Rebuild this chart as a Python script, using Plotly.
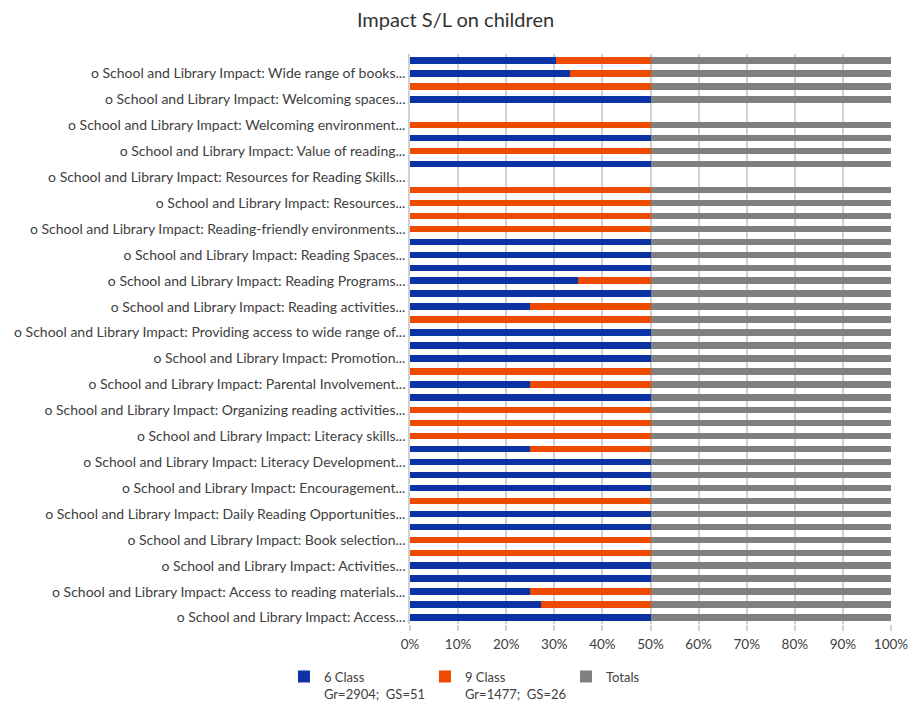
import plotly.graph_objects as go

# Categories, bottom to top (44 rows; Excel shows every other label)
categories = [
    "School and Library Impact: Access...",
    "School and Library Impact: Access (2)...",
    "School and Library Impact: Access to reading materials...",
    "School and Library Impact: Access to reading materials (2)...",
    "School and Library Impact: Activities...",
    "School and Library Impact: Activities (2)...",
    "School and Library Impact: Book selection...",
    "School and Library Impact: Book selection (2)...",
    "School and Library Impact: Daily Reading Opportunities...",
    "School and Library Impact: Daily Reading Opportunities (2)...",
    "School and Library Impact: Encouragement...",
    "School and Library Impact: Encouragement (2)...",
    "School and Library Impact: Literacy Development...",
    "School and Library Impact: Literacy Development (2)...",
    "School and Library Impact: Literacy skills...",
    "School and Library Impact: Literacy skills (2)...",
    "School and Library Impact: Organizing reading activities...",
    "School and Library Impact: Organizing reading activities (2)...",
    "School and Library Impact: Parental Involvement...",
    "School and Library Impact: Parental Involvement (2)...",
    "School and Library Impact: Promotion...",
    "School and Library Impact: Promotion (2)...",
    "School and Library Impact: Providing access to wide range of...",
    "School and Library Impact: Providing access to wide range of (2)...",
    "School and Library Impact: Reading activities...",
    "School and Library Impact: Reading activities (2)...",
    "School and Library Impact: Reading Programs...",
    "School and Library Impact: Reading Programs (2)...",
    "School and Library Impact: Reading Spaces...",
    "School and Library Impact: Reading Spaces (2)...",
    "School and Library Impact: Reading-friendly environments...",
    "School and Library Impact: Reading-friendly environments (2)...",
    "School and Library Impact: Resources...",
    "School and Library Impact: Resources (2)...",
    "School and Library Impact: Resources for Reading Skills...",
    "School and Library Impact: Resources for Reading Skills (2)...",
    "School and Library Impact: Value of reading...",
    "School and Library Impact: Value of reading (2)...",
    "School and Library Impact: Welcoming environment...",
    "School and Library Impact: Welcoming environment (2)...",
    "School and Library Impact: Welcoming spaces...",
    "School and Library Impact: Welcoming spaces (2)...",
    "School and Library Impact: Wide range of books...",
    "School and Library Impact: Wide range of books (2)...",
]

# Shares of each row (percent of the row's full bar)
six_class = [50, 27.2, 25, 50, 50, 0, 0, 50, 50, 0,
             50, 50, 50, 25, 0, 0, 0, 50, 25, 0,
             50, 50, 50, 0, 25, 50, 35, 50, 50, 50,
             0, 0, 0, 0, 0, 50, 0, 50, 0, 0,
             50, 0, 33.3, 30.4]
nine_class = [0, 22.8, 25, 0, 0, 50, 50, 0, 0, 50,
              0, 0, 0, 25, 50, 50, 50, 0, 25, 50,
              0, 0, 0, 50, 25, 0, 15, 0, 0, 0,
              50, 50, 50, 50, 0, 0, 50, 0, 50, 0,
              0, 50, 16.7, 19.6]
totals = [50 if (a + b) > 0 else 0 for a, b in zip(six_class, nine_class)]

labeled = categories[0::2]
tick_text = ["o " + c for c in labeled]

BLUE = "#0b33a6"
ORANGE = "#ee4a00"
GRAY = "#808080"

fig = go.Figure()
fig.add_trace(go.Bar(y=categories, x=six_class, orientation="h",
                     name="6 Class<br>Gr=2904;  GS=51", marker_color=BLUE,
                     marker_line_width=0))
fig.add_trace(go.Bar(y=categories, x=nine_class, orientation="h",
                     name="9 Class<br>Gr=1477;  GS=26", marker_color=ORANGE,
                     marker_line_width=0))
fig.add_trace(go.Bar(y=categories, x=totals, orientation="h",
                     name="Totals", marker_color=GRAY, marker_line_width=0))

fig.update_layout(
    width=911, height=702,
    barmode="stack",
    bargap=0.5,
    paper_bgcolor="white",
    plot_bgcolor="white",
    font=dict(family="Lato, Open Sans, sans-serif", color="#404040", size=14),
    title=dict(text="Impact S/L on children", x=0.5, xanchor="center",
               y=0.972, yanchor="middle",
               font=dict(size=20, color="#333333")),
    margin=dict(l=410, r=20, t=54, b=78, autoexpand=False),
    showlegend=True,
    legend=dict(orientation="h", x=-0.262, xanchor="left", y=-0.066,
                yanchor="top", valign="top", traceorder="normal",
                font=dict(size=13, color="#404040"),
                entrywidth=96, entrywidthmode="pixels"),
)
fig.update_xaxes(range=[0, 100], dtick=10, ticksuffix="%",
                 showgrid=True, gridcolor="#d0d0d0", gridwidth=1.5,
                 zeroline=False, showline=False, automargin=False,
                 ticks="outside", ticklen=6, tickcolor="#d0d0d0", tickwidth=1.5,
                 ticklabelstandoff=2,
                 tickfont=dict(size=13.5, color="#404040"))
fig.update_yaxes(type="category", categoryorder="array", categoryarray=categories,
                 tickmode="array", tickvals=labeled, ticktext=tick_text,
                 showline=True, linecolor="#d0d0d0", linewidth=1.5,
                 showgrid=False, ticks="", automargin=False,
                 tickfont=dict(size=14, color="#404040"),
                 range=[-0.5, 43.5])

fig.write_html("out.html",
               config={"displayModeBar": False},
               post_script="document.body.style.margin='0';document.body.style.overflow='hidden';")
